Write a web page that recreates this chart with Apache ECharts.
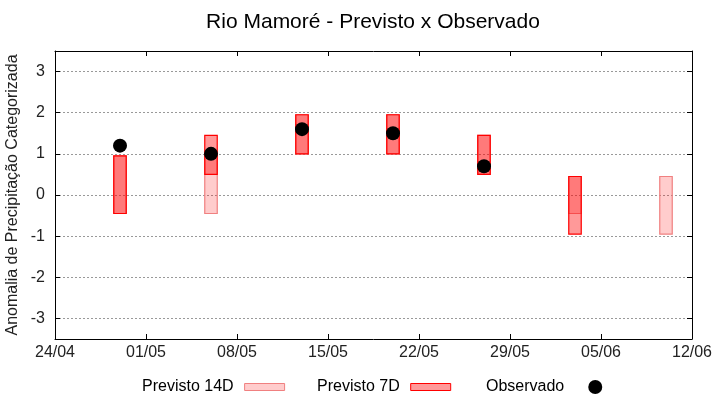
<!DOCTYPE html>
<html>
<head>
<meta charset="utf-8">
<script src="https://cdn.jsdelivr.net/npm/echarts@6/dist/echarts.min.js"></script>
<style>html,body{margin:0;padding:0;background:#fff}#c{width:720px;height:400px}</style>
</head>
<body>
<div id="c"></div>
<script>
const startDate = '2024-04-24';
const xTickLabels = ['24/04', '01/05', '08/05', '15/05', '22/05', '29/05', '05/06', '12/06'];
const yTickValues = [-3, -2, -1, 0, 1, 2, 3];

const prev14Dates = ['2024-04-29', '2024-05-06', '2024-05-13', '2024-05-20', '2024-05-27', '2024-06-03', '2024-06-10'];
const prev14Low  = [-0.45, -0.45, 1.0, 1.0, 0.5, -0.45, -0.95];
const prev14High = [0.95, 0.95, 1.95, 1.95, 1.45, 0.45, 0.45];

const prev7Dates = ['2024-04-29', '2024-05-06', '2024-05-13', '2024-05-20', '2024-05-27', '2024-06-03'];
const prev7Low  = [-0.45, 0.5, 1.0, 1.0, 0.5, -0.95];
const prev7High = [0.95, 1.45, 1.95, 1.95, 1.45, 0.45];

const obsDates = ['2024-04-29', '2024-05-06', '2024-05-13', '2024-05-20', '2024-05-27'];
const obsValues = [1.2, 1.0, 1.6, 1.5, 0.7];

const DAY = 86400000;
const t0 = Date.parse(startDate + 'T00:00:00Z');
const dayOf = s => (Date.parse(s + 'T00:00:00Z') - t0) / DAY;

const prev14Data = prev14Dates.map((d, i) => [dayOf(d), prev14Low[i], prev14High[i]]);
const prev7Data = prev7Dates.map((d, i) => [dayOf(d), prev7Low[i], prev7High[i]]);
const obsData = obsDates.map((d, i) => [dayOf(d), obsValues[i]]);

function rectRenderer(fill, stroke) {
  return function (params, api) {
    const x = api.value(0);
    const lo = api.coord([x, api.value(1)]);
    const hi = api.coord([x, api.value(2)]);
    const w = api.size([1, 0])[0] * 0.96;
    return {
      type: 'rect',
      shape: { x: lo[0] - w / 2, y: hi[1], width: w, height: lo[1] - hi[1] },
      style: { fill: fill, stroke: stroke, lineWidth: 1.2 }
    };
  };
}

const FONT = 'Liberation Sans, Arial, sans-serif';
const chart = echarts.init(document.getElementById('c'), null, { renderer: 'canvas' });
const xMax = (xTickLabels.length - 1) * 7;

chart.setOption({
  animation: false,
  backgroundColor: '#fff',
  textStyle: { fontFamily: FONT },
  title: {
    text: 'Rio Mamoré - Previsto x Observado',
    left: 368, top: 7, textAlign: 'center',
    textStyle: { fontFamily: FONT, fontSize: 21, fontWeight: 'normal', color: '#000' }
  },
  grid: { left: 55, right: 28, top: 51, bottom: 61, containLabel: false, outerBoundsMode: 'none' },
  legend: [
    { left: 142, top: 379, padding: 0, align: 'right', itemWidth: 40, itemHeight: 7, itemGap: 0,
      textStyle: { fontFamily: FONT, fontSize: 16, color: '#000', padding: [0, 6, 0, 0] },
      data: [{ name: 'Previsto 14D', icon: 'rect', itemStyle: { color: '#FFCCCC', borderColor: '#F08080', borderWidth: 1 } }] },
    { left: 317, top: 379, padding: 0, align: 'right', itemWidth: 40, itemHeight: 7, itemGap: 0,
      textStyle: { fontFamily: FONT, fontSize: 16, color: '#000', padding: [0, 6, 0, 0] },
      data: [{ name: 'Previsto 7D', icon: 'rect', itemStyle: { color: '#FF9999', borderColor: '#FF0000', borderWidth: 1 } }] },
    { left: 486, top: 379, padding: 0, align: 'right', itemWidth: 40, itemHeight: 14, itemGap: 0,
      textStyle: { fontFamily: FONT, fontSize: 16, color: '#000', padding: [0, 6, 0, 0] },
      data: [{ name: 'Observado', icon: 'circle', itemStyle: { color: '#000', opacity: 1 } }] }
  ],
  xAxis: [
    { type: 'value', min: 0, max: xMax, interval: 7, position: 'bottom',
      axisLine: { show: true, onZero: false, lineStyle: { color: '#000', width: 1 } },
      axisTick: { show: true, inside: true, length: 5, lineStyle: { color: '#000' } },
      axisLabel: { show: true, margin: 6, fontSize: 16, color: '#222', fontFamily: FONT,
        formatter: v => xTickLabels[Math.round(v / 7)] || '' },
      splitLine: { show: false } },
    { type: 'value', min: 0, max: xMax, interval: 7, position: 'top',
      axisLine: { show: true, onZero: false, lineStyle: { color: '#000', width: 1 } },
      axisTick: { show: true, inside: true, length: 5, lineStyle: { color: '#000' } },
      axisLabel: { show: false }, splitLine: { show: false } }
  ],
  yAxis: [
    { type: 'value', min: -3.5, max: 3.5, position: 'left',
      name: 'Anomalia de Precipitação Categorizada', nameLocation: 'middle', nameGap: 34,
      nameMoveOverlap: false,
      nameTextStyle: { fontFamily: FONT, fontSize: 16, color: '#222' },
      axisLine: { show: true, onZero: false, lineStyle: { color: '#000', width: 1 } },
      axisTick: { show: true, inside: true, length: 5, customValues: yTickValues, lineStyle: { color: '#000' } },
      axisLabel: { show: true, margin: 10, fontSize: 16, color: '#222', fontFamily: FONT, customValues: yTickValues },
      splitLine: { show: true, lineStyle: { color: '#999', type: [2, 2], width: 1 } } },
    { type: 'value', min: -3.5, max: 3.5, position: 'right',
      axisLine: { show: true, onZero: false, lineStyle: { color: '#000', width: 1 } },
      axisTick: { show: true, inside: true, length: 5, customValues: yTickValues, lineStyle: { color: '#000' } },
      axisLabel: { show: false, customValues: yTickValues }, splitLine: { show: false } }
  ],
  series: [
    { name: 'Previsto 14D', type: 'custom', xAxisIndex: 0, yAxisIndex: 0,
      renderItem: rectRenderer('rgba(255,0,0,0.2)', '#F08080'),
      encode: { x: 0, y: [1, 2] }, data: prev14Data, z: 2 },
    { name: 'Previsto 7D', type: 'custom', xAxisIndex: 0, yAxisIndex: 0,
      renderItem: rectRenderer('rgba(255,0,0,0.4)', '#FF0000'),
      encode: { x: 0, y: [1, 2] }, data: prev7Data, z: 3 },
    { name: 'Observado', type: 'scatter', xAxisIndex: 0, yAxisIndex: 0,
      symbol: 'circle', symbolSize: 14, itemStyle: { color: '#000', opacity: 1 },
      data: obsData, z: 4 }
  ]
});
</script>
</body>
</html>
